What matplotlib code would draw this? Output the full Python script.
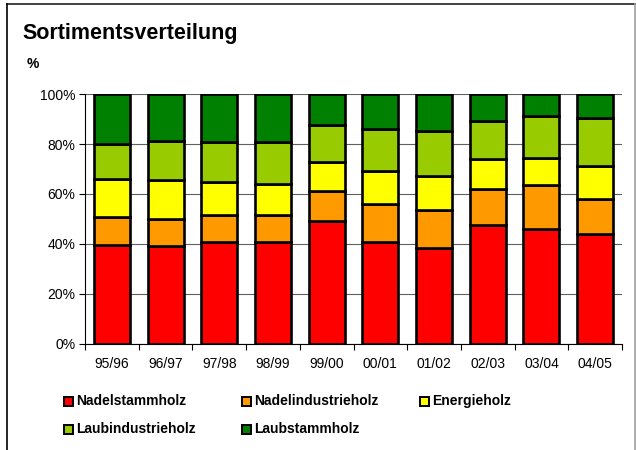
import matplotlib
matplotlib.use("Agg")
import matplotlib.pyplot as plt
from matplotlib.patches import Rectangle
from matplotlib.lines import Line2D
import numpy as np

plt.rcParams['font.family'] = ['Liberation Sans', 'DejaVu Sans']

categories = ["95/96", "96/97", "97/98", "98/99", "99/00", "00/01", "01/02", "02/03", "03/04", "04/05"]
series_names = ["Nadelstammholz", "Nadelindustrieholz", "Energieholz", "Laubindustrieholz", "Laubstammholz"]
nadelstamm = [39.6, 39.2, 40.9, 40.7, 49.2, 40.9, 38.3, 47.6, 46.0, 44.1]
nadelindustrie = [11.1, 10.8, 10.7, 10.9, 12.0, 15.2, 15.2, 14.4, 17.5, 13.9]
energie = [15.2, 15.5, 13.3, 12.5, 11.6, 13.1, 13.6, 12.0, 10.8, 13.1]
laubindustrie = [14.1, 15.7, 15.8, 16.6, 14.8, 16.7, 18.1, 15.2, 16.9, 19.2]
laubstamm = [20.0, 18.8, 19.3, 19.3, 12.4, 14.1, 14.8, 10.8, 8.8, 9.7]
yticks = [0, 20, 40, 60, 80, 100]
ytick_labels = ["0%", "20%", "40%", "60%", "80%", "100%"]
colors = ["#FF0000", "#FF9900", "#FFFF00", "#99CC00", "#008000"]

series = [nadelstamm, nadelindustrie, energie, laubindustrie, laubstamm]

W, H = 636, 450
fig = plt.figure(figsize=(W / 100, H / 100), dpi=100)
ax = fig.add_axes([85 / W, 1 - 343.5 / H, (622 - 85) / W, (343.5 - 94.3) / H])

x = np.arange(len(categories))
bottom = np.zeros(len(categories))
for vals, col, name in zip(series, colors, series_names):
    v = np.array(vals)
    ax.bar(x, v, bottom=bottom, width=0.67, color=col, edgecolor="black",
           linewidth=1.9, label=name, zorder=3)
    bottom += v

ax.set_xlim(-0.5, len(categories) - 0.5)
ax.set_ylim(0, 100)
ax.set_yticks(yticks)
ax.set_yticklabels(ytick_labels, fontsize=10)
ax.set_xticks(x)
ax.set_xticklabels(categories, fontsize=10)
ax.tick_params(axis='x', which='major', length=0, pad=10)
ax.set_xticks(np.arange(-0.5, len(categories), 1.0), minor=True)
ax.tick_params(axis='x', which='minor', length=4, width=0.8, direction='out')
ax.tick_params(axis='y', length=4, width=0.8, direction='out', pad=3)
ax.yaxis.grid(True, color="#606060", linewidth=0.8, zorder=0)
ax.set_axisbelow(True)
for s in ["top", "right"]:
    ax.spines[s].set_visible(False)
ax.spines["left"].set_linewidth(0.8)
ax.spines["bottom"].set_linewidth(0.8)

# Title and unit label
fig.text(22 / W, 1 - 39 / H, "Sortimentsverteilung", fontsize=15.5, fontweight="bold",
         ha="left", va="baseline")
fig.text(27 / W, 1 - 68 / H, "%", fontsize=10, fontweight="bold", ha="left", va="baseline")

# Legend (manual grid)
col_x = [64, 242, 420]
row_y = [401, 429]
for i, (name, col) in enumerate(zip(series_names, colors)):
    r, c = divmod(i, 3)
    sx = col_x[c]
    sy = row_y[r]
    fig.add_artist(Rectangle((sx / W, 1 - (sy + 4.5) / H), 9 / W, 9 / H,
                             transform=fig.transFigure, facecolor=col,
                             edgecolor="black", linewidth=1.4))
    fig.text((sx + 12.5) / W, 1 - sy / H, name, fontsize=10, fontweight="bold",
             ha="left", va="center")

# Figure border
fig.add_artist(Line2D([7 / W, 635 / W], [1 - 4 / H, 1 - 4 / H], transform=fig.transFigure,
                      color="#202020", linewidth=1.2))
fig.add_artist(Line2D([7 / W, 7 / W], [1 - 4 / H, 0], transform=fig.transFigure,
                      color="black", linewidth=1.2))
fig.add_artist(Line2D([635 / W, 635 / W], [1 - 4 / H, 0], transform=fig.transFigure,
                      color="#A0A0A0", linewidth=1.2))

fig.savefig("out.png", dpi=100)
